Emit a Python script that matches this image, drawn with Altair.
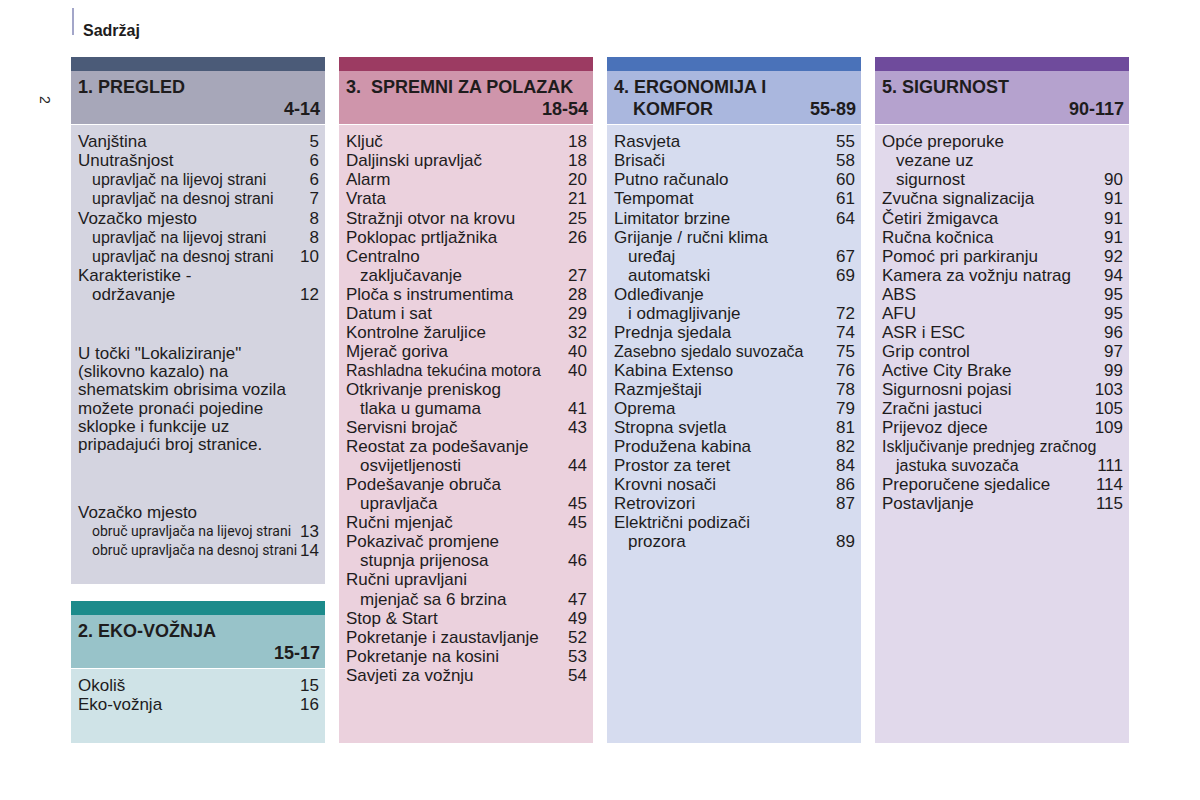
import altair as alt
import pandas as pd

# ---------------- content (read from the page) ----------------
page_title = "Sadržaj"
page_number = "2"

section_titles = ["1. PREGLED", "2. EKO-VOŽNJA", "3.\u00a0 SPREMNI ZA POLAZAK",
                  "4. ERGONOMIJA I", "5. SIGURNOST"]
section_title_cont = ["", "", "", "KOMFOR", ""]
section_ranges = ["4-14", "15-17", "18-54", "55-89", "90-117"]

# (entry text, page, level)  level 1 = indented sub-line
pregled_entries = [
    ("Vanjština", "5", 0),
    ("Unutrašnjost", "6", 0),
    ("upravljač na lijevoj strani", "6", 1),
    ("upravljač na desnoj strani", "7", 1),
    ("Vozačko mjesto", "8", 0),
    ("upravljač na lijevoj strani", "8", 1),
    ("upravljač na desnoj strani", "10", 1),
    ("Karakteristike -", "", 0),
    ("održavanje", "12", 1),
]
pregled_note = [
    'U točki "Lokaliziranje"',
    "(slikovno kazalo) na",
    "shematskim obrisima vozila",
    "možete pronaći pojedine",
    "sklopke i funkcije uz",
    "pripadajući broj stranice.",
]
pregled_extra_head = "Vozačko mjesto"
pregled_extra_entries = [
    ("obruč upravljača na lijevoj strani", "13"),
    ("obruč upravljača na desnoj strani", "14"),
]
eko_entries = [
    ("Okoliš", "15", 0),
    ("Eko-vožnja", "16", 0),
]
spremni_entries = [
    ("Ključ", "18", 0),
    ("Daljinski upravljač", "18", 0),
    ("Alarm", "20", 0),
    ("Vrata", "21", 0),
    ("Stražnji otvor na krovu", "25", 0),
    ("Poklopac prtljažnika", "26", 0),
    ("Centralno", "", 0),
    ("zaključavanje", "27", 1),
    ("Ploča s instrumentima", "28", 0),
    ("Datum i sat", "29", 0),
    ("Kontrolne žaruljice", "32", 0),
    ("Mjerač goriva", "40", 0),
    ("Rashladna tekućina motora", "40", 0),
    ("Otkrivanje preniskog", "", 0),
    ("tlaka u gumama", "41", 1),
    ("Servisni brojač", "43", 0),
    ("Reostat za podešavanje", "", 0),
    ("osvijetljenosti", "44", 1),
    ("Podešavanje obruča", "", 0),
    ("upravljača", "45", 1),
    ("Ručni mjenjač", "45", 0),
    ("Pokazivač promjene", "", 0),
    ("stupnja prijenosa", "46", 1),
    ("Ručni upravljani", "", 0),
    ("mjenjač sa 6 brzina", "47", 1),
    ("Stop & Start", "49", 0),
    ("Pokretanje i zaustavljanje", "52", 0),
    ("Pokretanje na kosini", "53", 0),
    ("Savjeti za vožnju", "54", 0),
]
ergonomija_entries = [
    ("Rasvjeta", "55", 0),
    ("Brisači", "58", 0),
    ("Putno računalo", "60", 0),
    ("Tempomat", "61", 0),
    ("Limitator brzine", "64", 0),
    ("Grijanje / ručni klima", "", 0),
    ("uređaj", "67", 1),
    ("automatski", "69", 1),
    ("Odleđivanje", "", 0),
    ("i odmagljivanje", "72", 1),
    ("Prednja sjedala", "74", 0),
    ("Zasebno sjedalo suvozača", "75", 0),
    ("Kabina Extenso", "76", 0),
    ("Razmještaji", "78", 0),
    ("Oprema", "79", 0),
    ("Stropna svjetla", "81", 0),
    ("Produžena kabina", "82", 0),
    ("Prostor za teret", "84", 0),
    ("Krovni nosači", "86", 0),
    ("Retrovizori", "87", 0),
    ("Električni podizači", "", 0),
    ("prozora", "89", 1),
]
sigurnost_entries = [
    ("Opće preporuke", "", 0),
    ("vezane uz", "", 1),
    ("sigurnost", "90", 1),
    ("Zvučna signalizacija", "91", 0),
    ("Četiri žmigavca", "91", 0),
    ("Ručna kočnica", "91", 0),
    ("Pomoć pri parkiranju", "92", 0),
    ("Kamera za vožnju natrag", "94", 0),
    ("ABS", "95", 0),
    ("AFU", "95", 0),
    ("ASR i ESC", "96", 0),
    ("Grip control", "97", 0),
    ("Active City Brake", "99", 0),
    ("Sigurnosni pojasi", "103", 0),
    ("Zračni jastuci", "105", 0),
    ("Prijevoz djece", "109", 0),
    ("Isključivanje prednjeg zračnog", "", 0),
    ("jastuka suvozača", "111", 1),
    ("Preporučene sjedalice", "114", 0),
    ("Postavljanje", "115", 0),
]
section_entries = [pregled_entries, eko_entries, spremni_entries,
                   ergonomija_entries, sigurnost_entries]

# ---------------- layout & style ----------------
FONT = "Liberation Sans, Arial, Helvetica, sans-serif"
NARROW = "Roboto, sans-serif"
INK = "#1e1c1d"
PANEL_W = 254
STRIP_H = 14
HEAD_H = 53
# left, top, bottom of body for each section panel
panels = [(71, 57, 584), (71, 601, 743), (339, 57, 743), (607, 57, 743), (875, 57, 743)]
palette = [
    ("#4b5b78", "#a7a7b9", "#d4d4e0"),
    ("#1c8b8b", "#98c3c9", "#cfe3e7"),
    ("#9c3b62", "#cf95ab", "#ebd1dd"),
    ("#4a72b9", "#aab7de", "#d6dcef"),
    ("#6f4b9c", "#b5a2ce", "#e1d9eb"),
]
STEP = 19.05
PAD_L, PAD_R, INDENT = 7, 6, 14
BODY_FS, SMALL_FS, HEAD_FS = 17, 16, 18
compact = {"Rashladna tekućina motora", "Zasebno sjedalo suvozača",
           "Isključivanje prednjeg zračnog", "jastuka suvozača",
           "upravljač na lijevoj strani", "upravljač na desnoj strani"}

rects, left_txt, right_txt, bold_l, bold_r, narrow_txt = [], [], [], [], [], []
for i, (lx, top, bot) in enumerate(panels):
    strip, head, body = palette[i]
    rects.append(dict(x=lx, x2=lx + PANEL_W, y=top, y2=top + STRIP_H, c=strip))
    rects.append(dict(x=lx, x2=lx + PANEL_W, y=top + STRIP_H, y2=top + STRIP_H + HEAD_H, c=head))
    rects.append(dict(x=lx, x2=lx + PANEL_W, y=top + STRIP_H + HEAD_H + 1, y2=bot, c=body))
    hy1 = top + STRIP_H + 17.3
    hy2 = top + STRIP_H + 39
    bold_l.append(dict(x=lx + PAD_L, y=hy1, t=section_titles[i]))
    if section_title_cont[i]:
        bold_l.append(dict(x=lx + PAD_L + 19, y=hy2, t=section_title_cont[i]))
    bold_r.append(dict(x=lx + PANEL_W - PAD_R + 1, y=hy2, t=section_ranges[i]))
    y0 = top + STRIP_H + HEAD_H + 18.3
    for k, (txt, pg, lvl) in enumerate(section_entries[i]):
        yy = y0 + k * STEP
        left_txt.append(dict(x=lx + PAD_L + lvl * INDENT, y=yy, t=txt,
                             fs=SMALL_FS if txt in compact else BODY_FS))
        if pg:
            right_txt.append(dict(x=lx + PANEL_W - PAD_R, y=yy, t=pg, fs=BODY_FS))

# note block in the first panel
lx = panels[0][0]
for k, line in enumerate(pregled_note):
    left_txt.append(dict(x=lx + PAD_L, y=354 + k * 18.2, t=line, fs=BODY_FS))
left_txt.append(dict(x=lx + PAD_L, y=513, t=pregled_extra_head, fs=BODY_FS))
for k, (txt, pg) in enumerate(pregled_extra_entries):
    yy = 532 + k * STEP
    narrow_txt.append(dict(x=lx + PAD_L + INDENT, y=yy, t=txt))
    right_txt.append(dict(x=lx + PANEL_W - PAD_R, y=yy, t=pg, fs=BODY_FS))

xs = alt.Scale(domain=[8, 1192], range=[0, 1184])
ys = alt.Scale(domain=[8, 792], range=[0, 784])


def X(f="x"):
    return alt.X(f"{f}:Q", scale=xs, axis=None)


def Y(f="y"):
    return alt.Y(f"{f}:Q", scale=ys, axis=None)


rect_layer = alt.Chart(pd.DataFrame(rects)).mark_rect().encode(
    x=X(), x2="x2", y=Y(), y2="y2", color=alt.Color("c:N", scale=None))


def text_layer(rows, **mk):
    enc = dict(x=X(), y=Y(), text="t:N")
    df = pd.DataFrame(rows)
    if "fs" in df.columns:
        enc["size"] = alt.Size("fs:Q", scale=None)
    return alt.Chart(df).mark_text(baseline="middle", color=INK, **mk).encode(**enc)


layers = [
    rect_layer,
    # small vertical rule next to the page title
    alt.Chart(pd.DataFrame([dict(x=72, x2=74, y=0, y2=35, c="#a3a6c9")])).mark_rect().encode(
        x=X(), x2="x2", y=Y(), y2="y2", color=alt.Color("c:N", scale=None)),
    text_layer([dict(x=83, y=31, t=page_title)], align="left", font=FONT, fontSize=16, fontWeight="bold"),
    text_layer([dict(x=44, y=100, t=page_number)], align="center", font=FONT, fontSize=14, angle=90),
    text_layer(left_txt, align="left", font=FONT),
    text_layer(right_txt, align="right", font=FONT),
    text_layer(bold_l, align="left", font=FONT, fontSize=HEAD_FS, fontWeight="bold"),
    text_layer(bold_r, align="right", font=FONT, fontSize=HEAD_FS, fontWeight="bold"),
    text_layer(narrow_txt, align="left", font=NARROW, fontSize=14),
]

chart = alt.layer(*layers).properties(
    width=1184, height=784, padding=0, autosize="none", background="white"
).configure_view(stroke=None)

chart.save("out.html", embed_options={"renderer": "svg", "actions": False})
